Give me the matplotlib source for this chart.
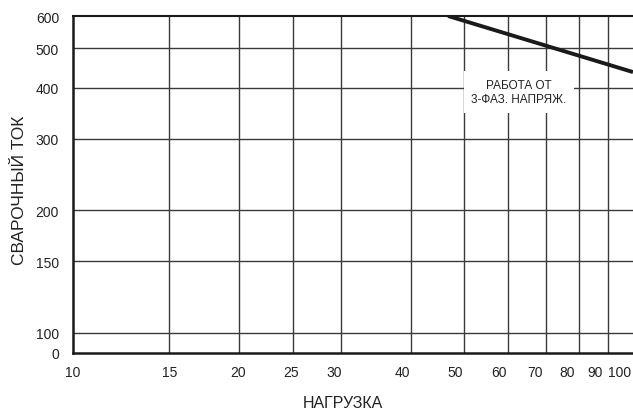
import matplotlib
matplotlib.use("Agg")
import matplotlib.pyplot as plt
from matplotlib import font_manager

# ---- data ----
x_ticks = [10, 15, 20, 25, 30, 40, 50, 60, 70, 80, 90, 100]
x_tick_labels = ["10", "15", "20", "25", "30", "40", "50", "60", "70", "80", "90", "100"]
y_ticks = [89.3, 100, 150, 200, 300, 400, 500, 600]
y_tick_labels = ["0", "100", "150", "200", "300", "400", "500", "600"]
grid_x = [15.0, 20.1, 25.25, 30.9, 41.5, 51.9, 62.4, 73.2, 84.2, 95.1]
grid_y = [100, 150, 200, 300, 400, 500]
line_x = [48.5, 105.6]
line_y = [600, 437]
label_text = "РАБОТА ОТ\n3-ФАЗ. НАПРЯЖ."
x_label = "НАГРУЗКА"
y_label = "СВАРОЧНЫЙ ТОК"

names = {f.name for f in font_manager.fontManager.ttflist}
fam = [n for n in ["Liberation Sans Narrow", "Liberation Sans", "DejaVu Sans"] if n in names]
plt.rcParams['font.family'] = fam

fig = plt.figure(figsize=(6.33, 4.14), dpi=100)
ax = fig.add_axes([73/633, 1 - 354/414, (633 - 73)/633, (354 - 17)/414])
ax.set_xscale('log')
ax.set_yscale('log')
ax.set_xlim(10, 105.6)
ax.set_ylim(89.3, 600)

gc = '#3a3a3a'
for gx in grid_x:
    ax.axvline(gx, color=gc, lw=1.0, zorder=1)
for gy in grid_y:
    ax.axhline(gy, color=gc, lw=1.0, zorder=1)

ax.plot(line_x, line_y, color='#1a1a1a', lw=2.8, solid_capstyle='butt', zorder=3, clip_on=True)

fig.text(519/633, 1 - 93/414, label_text, ha='center', va='center',
         fontsize=8.5, linespacing=1.3, color='#222222', zorder=4,
         bbox=dict(boxstyle='square,pad=0.65', fc='white', ec='none'))

ax.xaxis.set_major_locator(matplotlib.ticker.FixedLocator(x_ticks))
ax.xaxis.set_minor_locator(matplotlib.ticker.NullLocator())
ax.set_xticklabels(x_tick_labels)
ax.yaxis.set_major_locator(matplotlib.ticker.FixedLocator(y_ticks))
ax.yaxis.set_minor_locator(matplotlib.ticker.NullLocator())
ax.set_yticklabels(y_tick_labels)
ax.tick_params(length=0, labelsize=10, colors='#222222', pad=10)
ax.tick_params(axis='x', pad=9)

for s in ['left', 'bottom']:
    ax.spines[s].set_linewidth(1.8)
    ax.spines[s].set_color('#1a1a1a')
ax.spines['top'].set_linewidth(1.5)
ax.spines['top'].set_color('#1a1a1a')
ax.spines['right'].set_visible(False)

fig.text(343/633, 1 - 404/414, x_label, ha='center', va='center', fontsize=11.5, color='#222222')
fig.text(20/633, 1 - 190/414, y_label, ha='center', va='center', rotation=90, fontsize=12.5, color='#222222')

fig.savefig('out.png', dpi=100)
